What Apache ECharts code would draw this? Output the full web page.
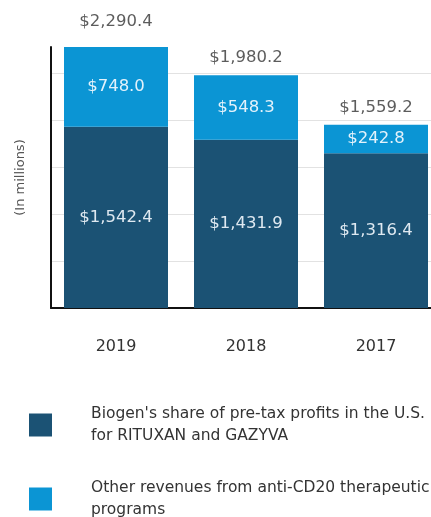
<!DOCTYPE html>
<html>
<head>
<meta charset="utf-8">
<script src="https://cdn.jsdelivr.net/npm/echarts@6/dist/echarts.min.js"></script>
<style>
  html, body { margin: 0; padding: 0; background: #fff; }
  #chart { width: 431px; height: 517px; }
</style>
</head>
<body>
<div id="chart"></div>
<script>
var years = ['2019', '2018', '2017']
var biogenShare = [1542.4, 1431.9, 1316.4]
var otherRevenue = [748.0, 548.3, 242.8]
var totals = [2290.4, 1980.2, 1559.2]
var legendNames = ['Biogen share', 'Other revenues']
var legendText = {
  'Biogen share': "Biogen's share of pre-tax profits in the U.S.\nfor RITUXAN and GAZYVA",
  'Other revenues': 'Other revenues from anti-CD20 therapeutic\nprograms'
}

function money (v) {
  var parts = v.toFixed(1).split('.')
  parts[0] = parts[0].replace(/\B(?=(\d{3})+(?!\d))/g, ',')
  return '$' + parts.join('.')
}

var font = 'DejaVu Sans'
var myChart = echarts.init(document.getElementById('chart'))
var option = {
  animation: false,
  textStyle: { fontFamily: font },
  grid: { left: 51, top: 47, width: 390, bottom: 209, outerBoundsMode: 'none' },
  legend: {
    data: legendNames,
    orient: 'vertical',
    left: 29,
    top: 403,
    height: 200,
    padding: 0,
    itemWidth: 23,
    itemHeight: 23,
    itemGap: 30,
    icon: 'rect',
    formatter: function (name) { return legendText[name] },
    textStyle: { fontFamily: font, fontSize: 15.5, lineHeight: 22, color: '#333', padding: [0, 0, 0, 34] }
  },
  xAxis: {
    type: 'category',
    data: years,
    axisLine: { lineStyle: { color: '#111', width: 2 } },
    axisTick: { alignWithLabel: true, length: 9, lineStyle: { color: '#555' } },
    axisLabel: { margin: 31, fontSize: 16, color: '#333', fontFamily: font }
  },
  yAxis: {
    type: 'value',
    min: 0,
    max: 2220,
    interval: 400,
    name: '(In millions)',
    nameLocation: 'middle',
    nameGap: 24,
    nameTextStyle: { fontSize: 13, color: '#555', fontFamily: font },
    axisLine: { show: true, lineStyle: { color: '#111', width: 2 } },
    axisTick: { show: false },
    axisLabel: { show: false },
    splitLine: { show: true, showMaxLine: false, lineStyle: { color: '#e2e2e2' } }
  },
  series: [
    {
      name: legendNames[0],
      type: 'bar',
      stack: 'total',
      barWidth: 104,
      data: biogenShare,
      itemStyle: { color: '#1b5274' },
      label: { show: true, position: 'inside', color: '#dfe9f1', fontSize: 16.5, fontFamily: font, formatter: function (p) { return money(p.value) } }
    },
    {
      name: legendNames[1],
      type: 'bar',
      stack: 'total',
      barWidth: 104,
      data: otherRevenue,
      itemStyle: { color: '#0b95d4' },
      label: { show: true, position: 'inside', color: '#e3f2fb', fontSize: 16.5, fontFamily: font, formatter: function (p) { return money(p.value) } }
    },
    {
      name: 'Total',
      type: 'scatter',
      data: totals,
      clip: false,
      symbolSize: 1,
      itemStyle: { color: 'transparent' },
      label: { show: true, position: 'top', distance: 8, color: '#333', fontSize: 16.5, fontFamily: font, formatter: function (p) { return money(p.value) } }
    }
  ]
}
myChart.setOption(option)
</script>
</body>
</html>
